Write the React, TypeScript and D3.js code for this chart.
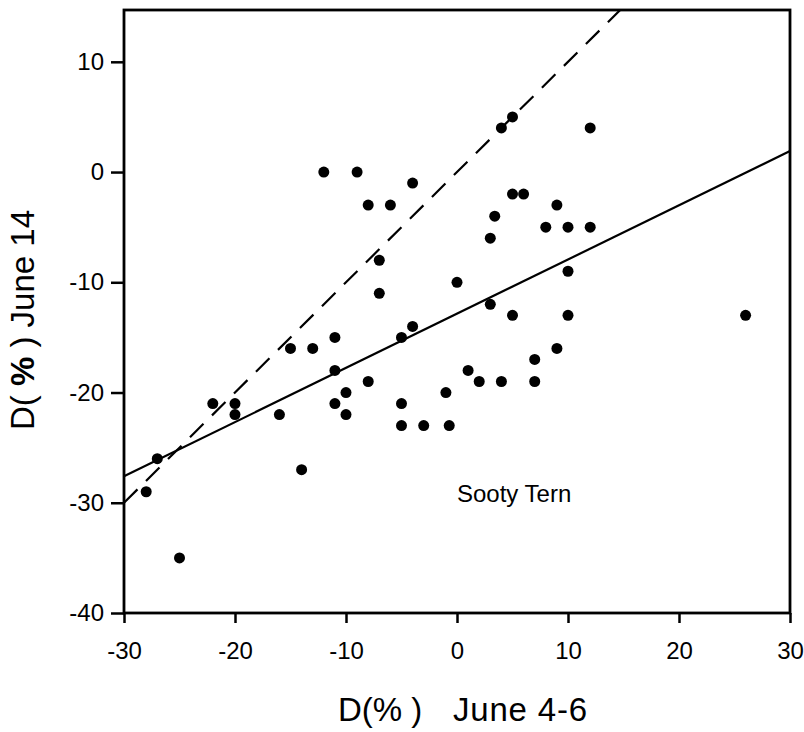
import React, { useEffect, useRef } from 'react'
import * as d3 from 'd3'

// D(%) June 4-6 vs D(%) June 14, Sooty Tern
const xValues = [
  -12, -9, -4, -8, -6, -7, -7, 0, 5, 4, 12, 5, 6, 9, 3.4, 8, 10, 12, 3, 10,
  3, 5, 10, 26, -11, -15, -13, -5, -4, -11, -8, -10, -1, -22, -20, -11, -5,
  -20, -16, -10, -5, -3, -0.7, -27, -14, -28, -25, 9, 7, 1, 2, 4, 7,
]
const yValues = [
  0, 0, -1, -3, -3, -8, -11, -10, 5, 4, 4, -2, -2, -3, -4, -5, -5, -5, -6, -9,
  -12, -13, -13, -13, -15, -16, -16, -15, -14, -18, -19, -20, -20, -21, -21, -21, -21,
  -22, -22, -22, -23, -23, -23, -26, -27, -29, -35, -16, -17, -18, -19, -19, -19,
]

// fitted regression (solid) and 1:1 line (dashed)
const regressionX = [-30, 30]
const regressionY = [-27.6, 1.9]
const identityX = [-30, 15]
const identityY = [-30, 15]

const xTicks = [-30, -20, -10, 0, 10, 20, 30]
const yTicks = [10, 0, -10, -20, -30, -40]

export default function App() {
  const ref = useRef<SVGSVGElement | null>(null)

  useEffect(() => {
    if (!ref.current) return
    const svg = d3.select(ref.current)
    svg.selectAll('*').remove()

    const left = 124, right = 790, top = 10, bottom = 613
    const x = d3.scaleLinear().domain([-30, 30]).range([left, right])
    const y = d3.scaleLinear().domain([-40, 14.7]).range([bottom, top])
    const font = '"Liberation Sans", Arial, sans-serif'
    const fmt = (d: d3.NumberValue) => String(d)

    svg.append('defs').append('clipPath').attr('id', 'plot-clip')
      .append('rect')
      .attr('x', left).attr('y', top)
      .attr('width', right - left).attr('height', bottom - top)

    // axes
    const yAxis = svg.append('g')
      .attr('transform', `translate(${left},0)`)
      .call(d3.axisLeft(y).tickValues(yTicks).tickFormat(fmt).tickSize(13).tickPadding(7))
    const xAxis = svg.append('g')
      .attr('transform', `translate(0,${bottom})`)
      .call(d3.axisBottom(x).tickValues(xTicks).tickFormat(fmt).tickSize(10).tickPadding(19))

    for (const g of [xAxis, yAxis]) {
      g.select('.domain').remove()
      g.selectAll('line').attr('stroke', '#000').attr('stroke-width', 2.5)
      g.selectAll('text')
        .attr('fill', '#000')
        .style('font-family', font)
        .style('font-size', '24px')
    }

    // frame
    svg.append('rect')
      .attr('x', left).attr('y', top)
      .attr('width', right - left).attr('height', bottom - top)
      .attr('fill', 'none')
      .attr('stroke', '#000')
      .attr('stroke-width', 2.8)

    const plot = svg.append('g').attr('clip-path', 'url(#plot-clip)')

    const drawLine = (xs: number[], ys: number[], dash: string | null) => {
      const pts = xs.map((v, i) => [x(v), y(ys[i])] as [number, number])
      const p = plot.append('path')
        .attr('d', d3.line()(pts))
        .attr('fill', 'none')
        .attr('stroke', '#000')
        .attr('stroke-width', 2.2)
      if (dash) p.attr('stroke-dasharray', dash)
    }
    drawLine(identityX, identityY, '19,12')
    drawLine(regressionX, regressionY, null)

    plot.selectAll('circle')
      .data(xValues)
      .enter()
      .append('circle')
      .attr('cx', (d) => x(d))
      .attr('cy', (_, i) => y(yValues[i]))
      .attr('r', 5.5)
      .attr('fill', '#000')

    svg.append('text')
      .attr('x', 457).attr('y', 502)
      .style('font-family', font)
      .style('font-size', '24px')
      .text('Sooty Tern')

    // x title
    svg.append('text')
      .attr('x', 338).attr('y', 721)
      .style('font-family', font)
      .style('font-size', '33px')
      .text('D(% )')
    svg.append('text')
      .attr('x', 453).attr('y', 721)
      .style('font-family', font)
      .style('font-size', '33px')
      .style('letter-spacing', '0.8px')
      .text('June 4-6')

    // y title
    const yt = svg.append('text')
      .attr('transform', 'translate(34,320) rotate(-90)')
      .attr('text-anchor', 'middle')
      .style('font-family', font)
      .style('font-size', '33px')
    yt.append('tspan').text('D( ')
    yt.append('tspan').style('font-weight', 'bold').text('%')
    yt.append('tspan').text(' ) June 14')
  }, [])

  return (
    <svg
      ref={ref}
      width={804}
      height={732}
      style={{ position: 'absolute', left: 0, top: 0, background: '#fff' }}
    />
  )
}
